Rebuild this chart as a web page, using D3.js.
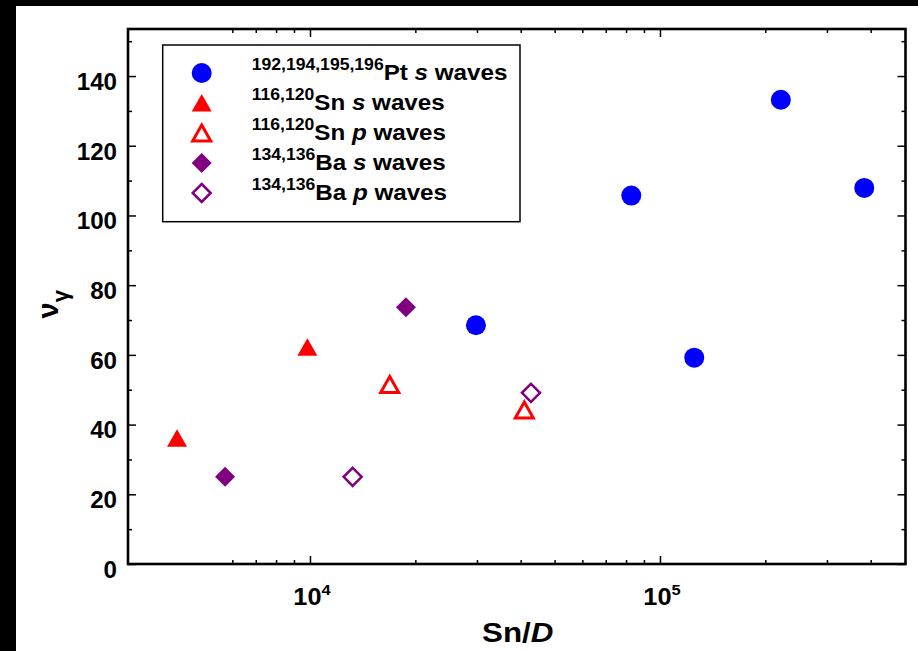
<!DOCTYPE html>
<html>
<head>
<meta charset="utf-8">
<script src="https://cdn.jsdelivr.net/npm/d3@7"></script>
<style>
  html, body { margin: 0; padding: 0; background: #000; }
  svg { display: block; }
  text { font-family: "Liberation Sans", Arial, sans-serif; font-weight: bold; fill: #000; }
</style>
</head>
<body>
<svg class="chart" width="918" height="651"></svg>
<script>
// values (x = Sn/D, y = nu_gamma)
var ptSn = [29800, 82800, 125300, 221500, 383500];
var ptNu = [68.5, 105.7, 59.2, 133.2, 107.9];
var snSSn = [4170, 9830];
var snSNu = [36.1, 62.2];
var snPSn = [16900, 40960];
var snPNu = [51.5, 44.2];
var baSSn = [5720, 18800];
var baSNu = [25.0, 73.7];
var baPSn = [13240, 42800];
var baPNu = [25.0, 49.1];

var legendIso = ['192,194,195,196', '116,120', '116,120', '134,136', '134,136'];
var legendEl = ['Pt', 'Sn', 'Sn', 'Ba', 'Ba'];
var legendWave = ['s', 's', 'p', 's', 'p'];

var yMajor = [0, 20, 40, 60, 80, 100, 120, 140];
var yMinor = [10, 30, 50, 70, 90, 110, 130, 150];
var xMajor = [1e4, 1e5];
var xMajorExp = ['4', '5'];
var xMinor = [6000, 7000, 8000, 9000, 2e4, 3e4, 4e4, 5e4, 6e4, 7e4, 8e4, 9e4, 2e5, 3e5, 4e5];

var series = [
    { xs: ptSn, ys: ptNu, color: '#0000ff', shape: 'circle', filled: true },
    { xs: snSSn, ys: snSNu, color: '#ff0000', shape: 'triangle', filled: true },
    { xs: snPSn, ys: snPNu, color: '#ff0000', shape: 'triangle', filled: false },
    { xs: baSSn, ys: baSNu, color: '#800080', shape: 'diamond', filled: true },
    { xs: baPSn, ys: baPNu, color: '#800080', shape: 'diamond', filled: false }
];

var svg = d3.select('.chart');
var pL = 128, pR = 905.5, pT = 29, pB = 564;
var sx = 1.1; // the original font is a bit wider than Arial

var x = d3.scaleLog().domain([3020, 503000]).range([pL, pR]);
var y = d3.scaleLinear().domain([0, 153.5]).range([pB, pT]);

// white panel on the dark backdrop
svg.append('rect').attr('x', 0).attr('y', 0).attr('width', 918).attr('height', 651).attr('fill', '#000');
svg.append('rect').attr('x', 16).attr('y', 6).attr('width', 902).attr('height', 645).attr('fill', '#fff');

function markerPath(shape, filled) {
    if (shape === 'circle') {
        return d3.symbol(d3.symbolCircle, Math.PI * 100)();
    }
    if (shape === 'triangle') {
        return filled ? 'M0,-9L10,8.5L-10,8.5Z' : 'M0,-8L9,8L-9,8Z';
    }
    return filled ? 'M0,-10L10,0L0,10L-10,0Z' : 'M0,-9L9,0L0,9L-9,0Z';
}

function styleMarker(sel, s) {
    sel.attr('d', markerPath(s.shape, s.filled))
        .attr('fill', s.filled ? s.color : 'none')
        .attr('stroke', s.filled ? 'none' : s.color)
        .attr('stroke-width', s.shape === 'triangle' ? 3 : 2.5)
        .attr('stroke-linejoin', 'miter');
}

// axes: ticks point inward on all four sides
function tickAxis(axisFn, scale, values, len, tx, ty) {
    var g = svg.append('g')
        .attr('transform', 'translate(' + tx + ',' + ty + ')')
        .call(axisFn(scale).tickValues(values).tickSizeInner(-len).tickSizeOuter(0).tickFormat(''));
    g.select('.domain').remove();
    g.selectAll('line').attr('stroke', '#000').attr('stroke-width', 1.5);
}

tickAxis(d3.axisBottom, x, xMajor, 8, 0, pB);
tickAxis(d3.axisBottom, x, xMinor, 4, 0, pB);
tickAxis(d3.axisTop, x, xMajor, 8, 0, pT);
tickAxis(d3.axisTop, x, xMinor, 4, 0, pT);
tickAxis(d3.axisLeft, y, yMajor, 8, pL, 0);
tickAxis(d3.axisLeft, y, yMinor, 4, pL, 0);
tickAxis(d3.axisRight, y, yMajor, 8, pR, 0);
tickAxis(d3.axisRight, y, yMinor, 4, pR, 0);

svg.append('rect')
    .attr('x', pL).attr('y', pT)
    .attr('width', pR - pL).attr('height', pB - pT)
    .attr('fill', 'none').attr('stroke', '#000').attr('stroke-width', 2.6);

// y tick labels
svg.selectAll('.ylab')
    .data(yMajor)
    .enter()
    .append('text')
    .attr('class', 'ylab')
    .attr('transform', function (d) {
        return 'translate(117,' + (y(d) + 13.8) + ') scale(1.05,1)';
    })
    .attr('text-anchor', 'end')
    .attr('font-size', 23)
    .text(function (d) { return d; });

// x tick labels 10^n
var xl = svg.selectAll('.xlab')
    .data(xMajor)
    .enter()
    .append('text')
    .attr('class', 'xlab')
    .attr('transform', function (d) {
        return 'translate(' + (x(d) + 2) + ',605) scale(' + sx + ',1)';
    })
    .attr('text-anchor', 'middle')
    .attr('font-size', 23);
xl.append('tspan').text('10');
xl.append('tspan')
    .attr('dy', -10)
    .attr('font-size', 15)
    .text(function (d, i) { return xMajorExp[i]; });

// axis titles
var xt = svg.append('text')
    .attr('transform', 'translate(' + ((pL + pR) / 2 + 1) + ',641.5) scale(1.12,1)')
    .attr('text-anchor', 'middle')
    .attr('font-size', 28);
xt.append('tspan').text('Sn/');
xt.append('tspan').attr('font-style', 'italic').text('D');

var yt = svg.append('text')
    .attr('transform', 'translate(58,318.5) rotate(-90)')
    .attr('font-size', 29);
yt.append('tspan').text('\u03bd');
yt.append('tspan').attr('dy', 10).attr('font-size', 22).text('\u03b3');

// data points
series.forEach(function (s) {
    var pts = s.xs.map(function (v, i) { return [v, s.ys[i]]; });
    svg.append('g')
        .selectAll('path')
        .data(pts)
        .enter()
        .append('path')
        .call(styleMarker, s)
        .attr('transform', function (d) {
            return 'translate(' + x(d[0]) + ',' + y(d[1]) + ')';
        });
});

// legend
svg.append('rect')
    .attr('x', 162.7).attr('y', 45)
    .attr('width', 357.3).attr('height', 176.7)
    .attr('fill', '#fff').attr('stroke', '#000').attr('stroke-width', 1.5);

var row = svg.selectAll('.leg')
    .data(series)
    .enter()
    .append('g')
    .attr('class', 'leg')
    .attr('transform', function (d, i) { return 'translate(0,' + (73 + i * 30) + ')'; });

row.append('path')
    .each(function (s) { d3.select(this).call(styleMarker, s); })
    .attr('transform', 'translate(201.7,0)');

var lt = row.append('text')
    .attr('transform', 'translate(251.7,7.3) scale(' + sx + ',1)')
    .attr('font-size', 22);
lt.append('tspan')
    .attr('dy', -10)
    .attr('font-size', 16)
    .text(function (d, i) { return legendIso[i]; });
lt.append('tspan')
    .attr('dy', 10)
    .text(function (d, i) { return legendEl[i] + ' '; });
lt.append('tspan')
    .attr('font-style', 'italic')
    .text(function (d, i) { return legendWave[i]; });
lt.append('tspan')
    .text(' waves');
</script>
</body>
</html>
